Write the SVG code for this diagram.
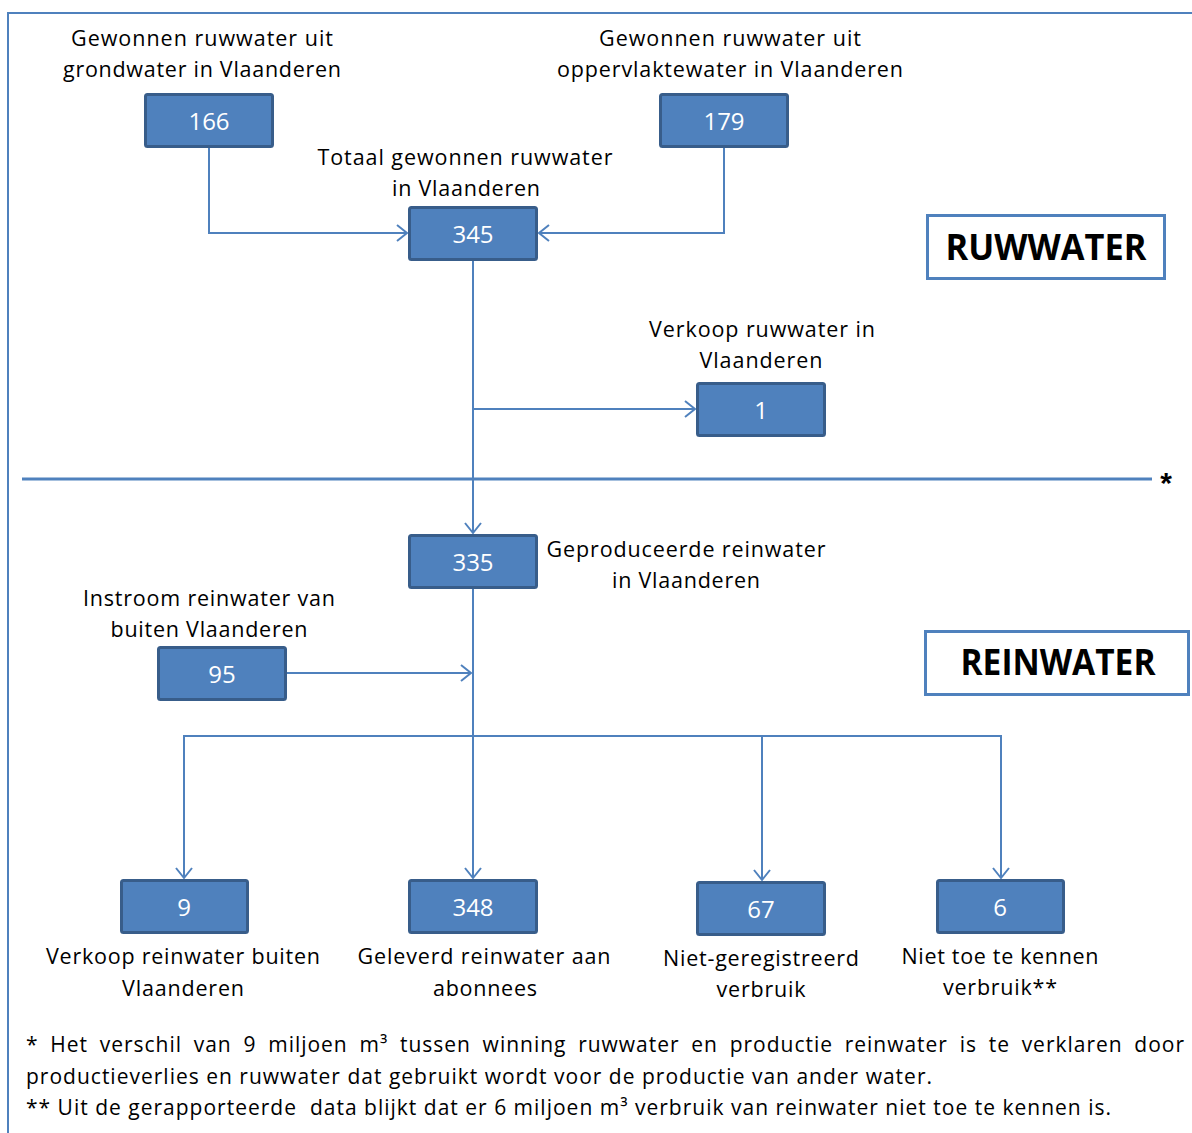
<svg xmlns="http://www.w3.org/2000/svg" width="1192" height="1133" viewBox="0 0 1192 1133">
<style>
.frame{fill:none;stroke:#4F81BD;stroke-width:2}
.box rect{fill:#4F81BD;stroke:#385D8A;stroke-width:3}
.box text{fill:#FFFFFF;font-family:"Open Sans","Liberation Sans",Arial,sans-serif;font-size:24px;text-anchor:middle}
.lbl{fill:#000;font-family:"Open Sans","Liberation Sans",Arial,sans-serif;font-size:21.5px;text-anchor:middle}
.fn{fill:#000;font-family:"Open Sans","Liberation Sans",Arial,sans-serif;font-size:21px}
.title rect{fill:#FFFFFF;stroke:#4F81BD;stroke-width:3}
.title text{fill:#000;font-family:"Open Sans","Liberation Sans",Arial,sans-serif;font-weight:bold;font-size:35px;text-anchor:middle}
.con{fill:none;stroke:#4F81BD;stroke-width:2}
</style>
<defs>
<marker id="arr" markerUnits="userSpaceOnUse" markerWidth="14" markerHeight="20" viewBox="-12 -9 14 18" refX="0" refY="0" orient="auto">
<path d="M-10,-8 L0,0 L-10,8" fill="none" stroke="#4F81BD" stroke-width="2"/>
</marker>
</defs>
<rect width="1192" height="1133" fill="#FFFFFF"/>
<g id="frame">
<path class="frame" d="M8,1133 V13 H1192"/>
</g>
<g id="divider">
<line x1="22" y1="479" x2="1152" y2="479" stroke="#4F81BD" stroke-width="3"/>
<text x="1166" y="493" font-family="Liberation Sans,Arial,sans-serif" font-weight="bold" font-size="30" text-anchor="middle">*</text>
</g>
<g id="connectors">
<path class="con" d="M209,147 V233 H407" marker-end="url(#arr)"/>
<path class="con" d="M724,147 V233 H539" marker-end="url(#arr)"/>
<path class="con" d="M473,260 V533" marker-end="url(#arr)"/>
<path class="con" d="M473,409 H695" marker-end="url(#arr)"/>
<path class="con" d="M286,673 H471" marker-end="url(#arr)"/>
<path class="con" d="M473,588 V878" marker-end="url(#arr)"/>
<path class="con" d="M473,736 H184 V878" marker-end="url(#arr)"/>
<path class="con" d="M473,736 H762 V880" marker-end="url(#arr)"/>
<path class="con" d="M762,736 H1001 V878" marker-end="url(#arr)"/>
</g>
<g id="n166" class="box"><rect x="145.5" y="94.5" width="127" height="52" rx="2"/><text x="209" y="130">166</text></g>
<g id="n179" class="box"><rect x="660.5" y="94.5" width="127" height="52" rx="2"/><text x="724" y="130">179</text></g>
<g id="n345" class="box"><rect x="409.5" y="207.5" width="127" height="52" rx="2"/><text x="473" y="243">345</text></g>
<g id="n1" class="box"><rect x="697.5" y="383.5" width="127" height="52" rx="2"/><text x="761" y="419">1</text></g>
<g id="n335" class="box"><rect x="409.5" y="535.5" width="127" height="52" rx="2"/><text x="473" y="571">335</text></g>
<g id="n95" class="box"><rect x="158.5" y="647.5" width="127" height="52" rx="2"/><text x="222" y="683">95</text></g>
<g id="n9" class="box"><rect x="121.5" y="880.5" width="126" height="52" rx="2"/><text x="184" y="916">9</text></g>
<g id="n348" class="box"><rect x="409.5" y="880.5" width="127" height="52" rx="2"/><text x="473" y="916">348</text></g>
<g id="n67" class="box"><rect x="697.5" y="882.5" width="127" height="52" rx="2"/><text x="761" y="918">67</text></g>
<g id="n6" class="box"><rect x="937.5" y="880.5" width="126" height="52" rx="2"/><text x="1000" y="916">6</text></g>
<g id="labels">
<text class="lbl" x="202" y="46" textLength="262" lengthAdjust="spacing">Gewonnen ruwwater uit</text>
<text class="lbl" x="202" y="77" textLength="278" lengthAdjust="spacing">grondwater in Vlaanderen</text>
<text class="lbl" x="730" y="46" textLength="262" lengthAdjust="spacing">Gewonnen ruwwater uit</text>
<text class="lbl" x="730" y="77" textLength="346" lengthAdjust="spacing">oppervlaktewater in Vlaanderen</text>
<text class="lbl" x="465" y="165" textLength="295" lengthAdjust="spacing">Totaal gewonnen ruwwater</text>
<text class="lbl" x="466" y="196" textLength="148" lengthAdjust="spacing">in Vlaanderen</text>
<text class="lbl" x="762" y="337" textLength="226" lengthAdjust="spacing">Verkoop ruwwater in</text>
<text class="lbl" x="761" y="368" textLength="123" lengthAdjust="spacing">Vlaanderen</text>
<text class="lbl" x="686" y="557" textLength="279" lengthAdjust="spacing">Geproduceerde reinwater</text>
<text class="lbl" x="686" y="588" textLength="148" lengthAdjust="spacing">in Vlaanderen</text>
<text class="lbl" x="209" y="606" textLength="252" lengthAdjust="spacing">Instroom reinwater van</text>
<text class="lbl" x="209" y="637" textLength="197" lengthAdjust="spacing">buiten Vlaanderen</text>
<text class="lbl" x="183" y="964" textLength="274" lengthAdjust="spacing">Verkoop reinwater buiten</text>
<text class="lbl" x="183" y="996" textLength="122" lengthAdjust="spacing">Vlaanderen</text>
<text class="lbl" x="484" y="964" textLength="253" lengthAdjust="spacing">Geleverd reinwater aan</text>
<text class="lbl" x="485" y="996" textLength="104" lengthAdjust="spacing">abonnees</text>
<text class="lbl" x="761" y="966" textLength="196" lengthAdjust="spacing">Niet-geregistreerd</text>
<text class="lbl" x="761" y="997" textLength="89" lengthAdjust="spacing">verbruik</text>
<text class="lbl" x="1000" y="964" textLength="197" lengthAdjust="spacing">Niet toe te kennen</text>
<text class="lbl" x="1000" y="995" textLength="114" lengthAdjust="spacing">verbruik**</text>
</g>
<g id="ruwwater" class="title"><rect x="927.5" y="215.5" width="237" height="63"/><text x="1046" y="260" textLength="201" lengthAdjust="spacingAndGlyphs">RUWWATER</text></g>
<g id="reinwater" class="title"><rect x="925.5" y="631.5" width="263" height="63"/><text x="1058" y="675" textLength="195" lengthAdjust="spacingAndGlyphs">REINWATER</text></g>
<g id="footnotes">
<text class="fn" x="26" y="1052" word-spacing="5.3" textLength="1158" lengthAdjust="spacing">* Het verschil van 9 miljoen m³ tussen winning ruwwater en productie reinwater is te verklaren door</text>
<text class="fn" x="26" y="1084" textLength="906" lengthAdjust="spacing">productieverlies en ruwwater dat gebruikt wordt voor de productie van ander water.</text>
<text class="fn" x="26" y="1115" textLength="1085" lengthAdjust="spacing" xml:space="preserve">** Uit de gerapporteerde  data blijkt dat er 6 miljoen m³ verbruik van reinwater niet toe te kennen is.</text>
</g>
</svg>
